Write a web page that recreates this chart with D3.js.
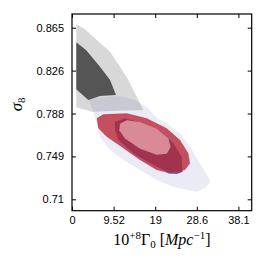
<!DOCTYPE html>
<html>
<head>
<meta charset="utf-8">
<script src="https://cdn.jsdelivr.net/npm/d3@7"></script>
<style>
  body { margin: 0; background: #fff; }
  svg { display: block; }
</style>
</head>
<body>
<div id="chart"></div>
<script>
// tick values and their labels
const xTicks = [0, 9.52, 19.04, 28.56, 38.08];
const xTickLabels = ["0", "9.52", "19", "28.6", "38.1"];
const yTicks = [0.7100, 0.7488, 0.7876, 0.8264, 0.8652];
const yTickLabels = ["0.71", "0.749", "0.788", "0.826", "0.865"];

// contour outlines, [Gamma0, sigma8]
const grayOuter = [[0.98, 0.8685], [2.97, 0.8638], [5.65, 0.8541], [8.70, 0.8435], [10.98, 0.8299],
  [12.88, 0.8179], [14.81, 0.8028], [16.32, 0.7908], [10.60, 0.7901], [4.51, 0.7892], [0.98, 0.7932]];
const grayInner = [[0.98, 0.8520], [3.20, 0.8450], [6.41, 0.8299], [8.70, 0.8179], [10.07, 0.8043],
  [6.41, 0.8034], [3.73, 0.7998], [0.98, 0.8095]];
const blueOuter = [[3.73, 0.8010], [10.53, 0.8035], [14.42, 0.7998], [17.39, 0.7926], [19.38, 0.7833],
  [21.67, 0.7787], [24.72, 0.7697], [27.00, 0.7576], [29.29, 0.7426], [31.19, 0.7304], [31.58, 0.7250],
  [30.44, 0.7199], [28.54, 0.7169], [26.25, 0.7184], [23.18, 0.7214], [19.38, 0.7275], [15.56, 0.7365],
  [11.74, 0.7455], [8.70, 0.7546], [6.41, 0.7666], [5.65, 0.7787], [4.87, 0.7892]];
const blueInner = [[12.0, 0.7800], [17.0, 0.7770], [22.5, 0.7640], [25.0, 0.7480], [25.1, 0.7345],
  [24.0, 0.7330], [22.0, 0.7334], [20.0, 0.7390], [14.5, 0.7500], [10.8, 0.7630], [10.2, 0.7740]];
const redOuter = [[5.65, 0.7833], [7.16, 0.7869], [12.52, 0.7878], [17.09, 0.7833], [21.67, 0.7742],
  [24.72, 0.7636], [26.62, 0.7516], [27.00, 0.7426], [25.86, 0.7365], [22.43, 0.7335], [19.38, 0.7365],
  [15.56, 0.7455], [11.74, 0.7561], [7.94, 0.7666], [6.02, 0.7742]];
const redInner = [[9.84, 0.7802], [12.13, 0.7833], [16.32, 0.7787], [20.14, 0.7711], [23.18, 0.7606],
  [25.10, 0.7485], [25.33, 0.7350], [22.43, 0.7341], [18.61, 0.7410], [14.03, 0.7516], [10.60, 0.7636],
  [9.84, 0.7727]];
const pinkCore = [[10.98, 0.7784], [12.51, 0.7814], [15.56, 0.7799], [19.38, 0.7739], [22.05, 0.7649],
  [22.59, 0.7573], [21.67, 0.7513], [19.38, 0.7504], [15.56, 0.7558], [12.13, 0.7649], [10.83, 0.7724]];

const width = 266, height = 266;
const margin = { top: 14, right: 14.3, bottom: 55.3, left: 72 };
const plotW = width - margin.left - margin.right,
      plotH = height - margin.top - margin.bottom;

const x = d3.scaleLinear().domain([0, 41.12]).range([0, plotW]);
const y = d3.scaleLinear().domain([0.6997, 0.8776]).range([plotH, 0]);

const svg = d3.select("#chart")
  .append("svg")
  .attr("width", width)
  .attr("height", height)
  .append("g")
  .attr("transform", "translate(" + margin.left + "," + margin.top + ")");

const line = d3.line().x(d => x(d[0])).y(d => y(d[1])).curve(d3.curveLinearClosed);

const layers = [
  { pts: grayOuter, fill: "#d8d8d8", opacity: 1 },
  { pts: blueOuter, fill: "#7878bc", opacity: 0.15 },
  { pts: grayInner, fill: "#555555", opacity: 1 },
  { pts: redOuter, fill: "#c4505f", opacity: 1 },
  { pts: blueInner, fill: "#6a5cb0", opacity: 1 },
  { pts: redInner, fill: "#a2334f", opacity: 1 },
  { pts: pinkCore, fill: "#d88b96", opacity: 1 }
];

svg.append("g")
  .selectAll("path")
  .data(layers)
  .join("path")
  .attr("d", d => line(d.pts))
  .attr("fill", d => d.fill)
  .attr("fill-opacity", d => d.opacity);

const font = "'Liberation Sans', Arial, sans-serif";

function styleAxis(g) {
  g.select(".domain").remove();
  g.selectAll("line").attr("stroke", "#000").attr("stroke-width", 1);
  g.selectAll("text").attr("font-family", font).attr("font-size", 11).attr("fill", "#000");
}

svg.append("g")
  .attr("transform", "translate(0," + plotH + ")")
  .call(d3.axisBottom(x).tickValues(xTicks).tickSize(-4).tickPadding(6)
    .tickFormat((d, i) => xTickLabels[i]))
  .call(styleAxis);

svg.append("g")
  .call(d3.axisTop(x).tickValues(xTicks).tickSize(-4).tickFormat(""))
  .call(styleAxis);

svg.append("g")
  .call(d3.axisLeft(y).tickValues(yTicks).tickSize(-4).tickPadding(8)
    .tickFormat((d, i) => yTickLabels[i]))
  .call(styleAxis);

svg.append("g")
  .attr("transform", "translate(" + plotW + ",0)")
  .call(d3.axisRight(y).tickValues(yTicks).tickSize(-4).tickFormat(""))
  .call(styleAxis);

svg.append("rect")
  .attr("width", plotW)
  .attr("height", plotH)
  .attr("fill", "none")
  .attr("stroke", "#000")
  .attr("stroke-width", 1.2);

// axis labels
const serif = "'Liberation Serif', 'DejaVu Serif', serif";

const xl = svg.append("text")
  .attr("x", plotW / 2)
  .attr("y", plotH + 34)
  .attr("text-anchor", "middle")
  .attr("font-family", serif)
  .attr("font-size", 16)
  .attr("fill", "#000");
xl.append("tspan").text("10");
xl.append("tspan").attr("font-size", 11).attr("dy", -6).text("+8");
xl.append("tspan").attr("dy", 6).text("Γ");
xl.append("tspan").attr("font-size", 11).attr("dy", 3).text("0");
xl.append("tspan").attr("dy", -3).text(" [");
xl.append("tspan").attr("font-style", "italic").text("Mpc");
xl.append("tspan").attr("font-size", 11).attr("dy", -6).text("−1");
xl.append("tspan").attr("dy", 6).text("]");

const yl = svg.append("text")
  .attr("transform", "translate(" + (-50) + "," + (plotH / 2 - 8) + ") rotate(-90)")
  .attr("text-anchor", "middle")
  .attr("font-family", serif)
  .attr("font-size", 17)
  .attr("fill", "#000");
yl.append("tspan").attr("font-style", "italic").text("σ");
yl.append("tspan").attr("font-size", 11).attr("dy", 3).text("8");
</script>
</body>
</html>
